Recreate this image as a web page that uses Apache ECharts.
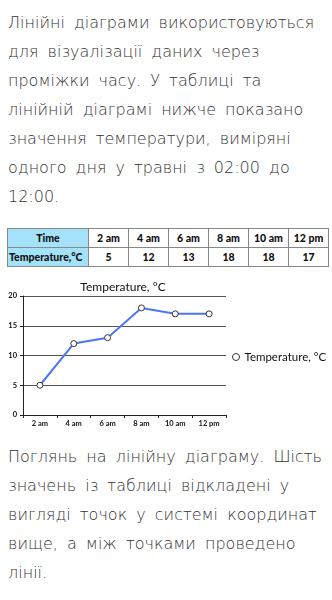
<!DOCTYPE html>
<html><head><meta charset="utf-8">
<script src="https://cdn.jsdelivr.net/npm/echarts@6/dist/echarts.min.js"></script>
<style>
html,body{margin:0;padding:0;background:#fff;width:332px;height:600px;overflow:hidden}
.p{position:absolute;left:8px;width:318px;font-family:"DejaVu Sans";font-weight:200;font-size:16px;color:#333;line-height:29px;word-spacing:4px}
.p div{white-space:nowrap}
table{position:absolute;left:7px;top:228px;border-collapse:collapse;font-family:Lato,"Noto Sans";font-weight:900;font-size:10.5px;color:#111}
td{border:1px solid #888;height:18px;text-align:center;padding:0;width:39px}
td.h{width:79px}
tr:first-child td.h{background:#a3e2f8}
td.hl{background:#a3e2f8;text-align:left;padding-left:1px}
#chart{position:absolute;left:0;top:280px;width:332px;height:160px}
</style></head><body>
<div class="p" style="top:8px" id="p1"></div>
<table id="tbl"></table>
<div id="chart"></div>
<div class="p" style="top:442px" id="p2"></div>
<script>
const para1 = ["Лінійні діаграми використовуються","для візуалізації даних через","проміжки часу. У таблиці та","лінійній діаграмі нижче показано","значення температури, виміряні","одного дня у травні з 02:00 до","12:00."];
const para2 = ["Поглянь на лінійну діаграму. Шість","значень із таблиці відкладені у","вигляді точок у системі координат","вище, а між точками проведено","лінії."];
const times = ["2 am","4 am","6 am","8 am","10 am","12 pm"];
const tableTemps = [5,12,13,18,18,17];
const chartTemps = [5,12,13,18,17,17];
const yTicks = [0,5,10,15,20];
const seriesName = "Temperature, °C";

document.getElementById('p1').innerHTML = para1.map(s=>'<div>'+s+'</div>').join('');
document.getElementById('p2').innerHTML = para2.map(s=>'<div>'+s+'</div>').join('');
document.getElementById('tbl').innerHTML =
  '<tr><td class="h">Time</td>'+times.map(t=>'<td>'+t+'</td>').join('')+'</tr>'+
  '<tr><td class="h hl">Temperature,°C</td>'+tableTemps.map(t=>'<td>'+t+'</td>').join('')+'</tr>';

const chart = echarts.init(document.getElementById('chart'));
chart.setOption({
  animation:false,
  title:{text:seriesName,left:123,top:1,padding:0,textAlign:'center',textStyle:{fontFamily:'Lato',fontSize:12,fontWeight:'normal',color:'#111'}},
  legend:{data:[{name:seriesName,icon:'circle'}],left:227,top:66,itemWidth:7,itemHeight:7,itemGap:3,
    itemStyle:{color:'#fff',borderColor:'#333',borderWidth:1},
    textStyle:{fontFamily:'Lato',fontSize:11.5,color:'#111'}},
  grid:{left:23,right:106,top:16,bottom:25},
  xAxis:{type:'category',data:times,boundaryGap:true,
    axisLine:{lineStyle:{color:'#222',width:1}},
    axisTick:{show:true,length:3,lineStyle:{color:'#222'}},
    axisLabel:{fontFamily:'Lato',fontWeight:'bold',fontSize:7.5,color:'#111',margin:5}},
  yAxis:{type:'value',min:yTicks[0],max:yTicks[yTicks.length-1],interval:5,
    axisLine:{show:true,lineStyle:{color:'#222'}},
    axisTick:{show:true,length:3,lineStyle:{color:'#222'}},
    axisLabel:{fontFamily:'Lato',fontWeight:'bold',fontSize:7.5,color:'#111',margin:6},
    splitLine:{lineStyle:{color:'#555',width:1}}},
  series:[{name:seriesName,type:'line',data:chartTemps,symbol:'circle',symbolSize:6,
    lineStyle:{color:'#4a78f5',width:2},
    itemStyle:{color:'#fff',borderColor:'#333',borderWidth:1}}]
});
</script></body></html>
